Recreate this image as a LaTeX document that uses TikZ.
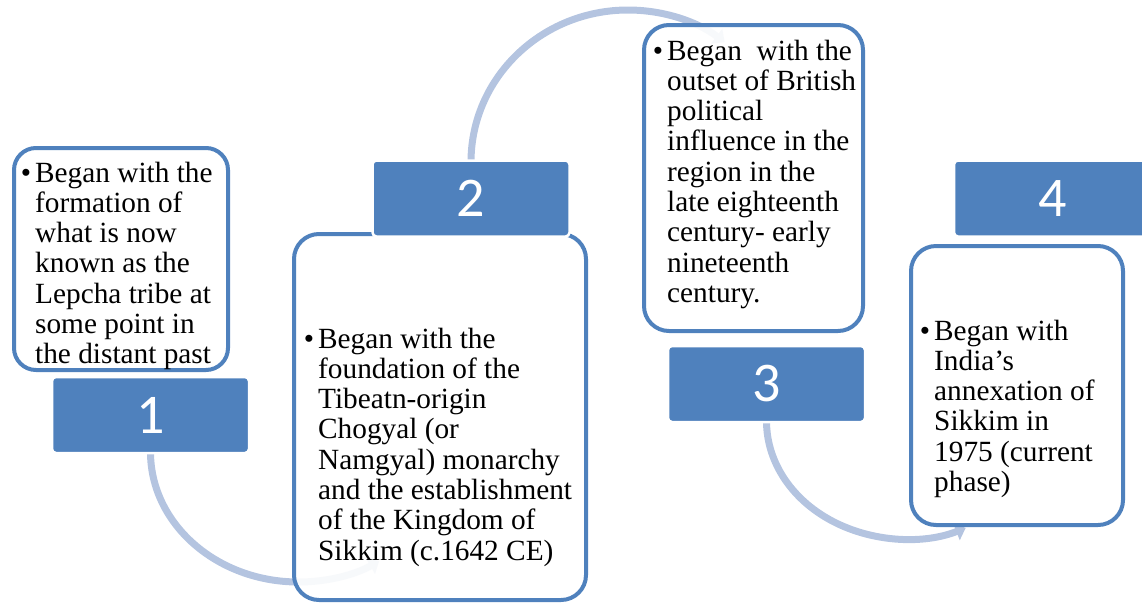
\documentclass[tikz,border=0pt]{standalone}
\usepackage{fontspec}
\setmainfont{Liberation Serif}
\newfontfamily\numfont{Carlito}
\usetikzlibrary{arrows.meta}
\definecolor{accent}{HTML}{4F81BD}
\definecolor{arcblue}{HTML}{B4C4E0}

\begin{document}
\begin{tikzpicture}[x=1pt,y=-1pt,
  card/.style={draw=accent, line width=4pt, fill=white, fill opacity=0.9,
    draw opacity=1, rounded corners=22pt, inner sep=0pt},
  tag/.style={fill=accent, draw=white, line width=2.5pt, rounded corners=4pt,
    minimum width=197pt, minimum height=76pt, inner sep=0pt,
    text=white, font=\numfont\fontsize{56}{56}\selectfont},
  flow/.style={draw=arcblue, line width=7pt, -{Triangle[length=10pt,width=18pt]}},
  body/.style={anchor=base west, inner sep=0pt, align=left,
    font=\fontsize{29.3}{30.3}\selectfont},
]
\useasboundingbox (0,0) rectangle (1142,603);

% centres of the number tabs
\path (150.5,415) coordinate (c1) (471,198.5) coordinate (c2)
      (766.5,384) coordinate (c3) (1052.5,198.5) coordinate (c4);

% connecting arcs, running behind the cards
\draw[flow] (150.5,452) coordinate (a1) arc[start angle=180, end angle=303, x radius=148pt, y radius=130pt] coordinate (b1);
\draw[flow] (471,162) coordinate (a2) arc[start angle=180, end angle=52, x radius=157pt, y radius=152pt] coordinate (b2);
\draw[flow] (766.5,421) coordinate (a3) arc[start angle=180, end angle=295, x radius=140pt, y radius=118pt] coordinate (b3);

% text cards
\node[card, minimum width=214pt, minimum height=222pt] (k1) at (121,259) {};
\node[card, minimum width=292pt, minimum height=366pt, rounded corners=25pt] (k2) at (440,417) {};
\node[card, minimum width=219pt, minimum height=306pt, rounded corners=25pt] (k3) at (753.5,178) {};
\node[card, minimum width=212pt, minimum height=279pt, rounded corners=25pt] (k4) at (1017,385.5) {};

% number tabs
\node[tag] (n1) at (c1) {1};
\node[tag] (n2) at (c2) {2};
\node[tag] (n3) at (c3) {3};
\node[tag] (n4) at (c4) {4};

% card texts
\node[body] (t1) at (35,182) {\begin{tabular}[t]{@{}l@{}}\llap{•\hspace{4pt}}Began with the\\
formation of\\ what is now\\ known as the\\ Lepcha tribe at\\ some point in\\ the distant past\end{tabular}};

\node[body] (t2) at (318,348) {\begin{tabular}[t]{@{}l@{}}\llap{•\hspace{4pt}}Began with the\\
foundation of the\\ Tibeatn-origin\\ Chogyal (or\\ Namgyal) monarchy\\ and the establishment\\ of the Kingdom of\\ Sikkim (c.1642 CE)\end{tabular}};

\node[body] (t3) at (667,60) {\begin{tabular}[t]{@{}l@{}}\llap{•\hspace{4pt}}Began~ with the\\
outset of British\\ political\\ influence in the\\ region in the\\ late eighteenth\\ century- early\\ nineteenth\\ century.\end{tabular}};

\node[body] (t4) at (934,340) {\begin{tabular}[t]{@{}l@{}}\llap{•\hspace{4pt}}Began with\\
India{\char"0027}s\\ annexation of\\ Sikkim in\\ 1975 (current\\ phase)\end{tabular}};
\end{tikzpicture}
\end{document}
